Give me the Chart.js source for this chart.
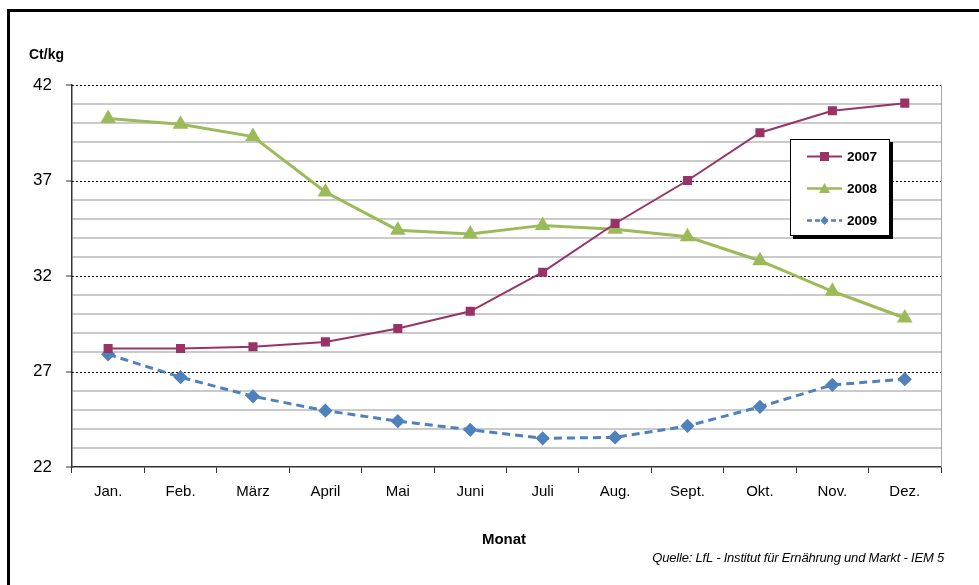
<!DOCTYPE html>
<html>
<head>
<meta charset="utf-8">
<script src="https://cdn.jsdelivr.net/npm/chart.js@4/dist/chart.umd.min.js"></script>
<style>
  html, body { margin: 0; padding: 0; background: #fff; }
  #wrap { position: relative; width: 979px; height: 585px; overflow: hidden; font-family: Arial, "Liberation Sans", sans-serif; }
  #frame { position: absolute; left: 7px; top: 9px; width: 990px; height: 600px; border-left: 3px solid #000; border-top: 3px solid #000; }
  canvas { position: absolute; left: 0; top: 0; }
  .txt { position: absolute; white-space: nowrap; color: #000; }
  #unit { left: 29px; top: 46px; font-size: 14px; font-weight: bold; }
  #xtitle { left: 0; width: 1008px; text-align: center; top: 530px; font-size: 15px; font-weight: bold; }
  #source { right: 35px; top: 550px; font-size: 13px; font-style: italic; letter-spacing: -0.2px; }
  #legend { position: absolute; left: 790px; top: 139px; width: 98px; height: 95px; background: #fff; border: 1px solid #000; box-shadow: 3px 3px 0 #000; }
  #legend .row { position: absolute; left: 16px; height: 20px; }
  #legend svg { position: absolute; left: 0; top: 0; }
  #legend span { position: absolute; left: 40px; top: 2px; font-size: 13.5px; font-weight: bold; }
</style>
</head>
<body>
<div id="wrap">
  <canvas id="myChart" width="979" height="585"></canvas>
  <div id="frame"></div>
  <div class="txt" id="unit">Ct/kg</div>
  <div class="txt" id="xtitle">Monat</div>
  <div class="txt" id="source">Quelle: LfL - Institut für Ernährung und Markt - IEM 5</div>
  <div id="legend"></div>
</div>
<script>
var months = ['Jan.', 'Feb.', 'März', 'April', 'Mai', 'Juni', 'Juli', 'Aug.', 'Sept.', 'Okt.', 'Nov.', 'Dez.'];
var years  = ['2007', '2008', '2009'];
var values_2007 = [28.2, 28.2, 28.3, 28.55, 29.25, 30.15, 32.2, 34.75, 37.0, 39.5, 40.65, 41.05];
var values_2008 = [40.25, 39.95, 39.3, 36.4, 34.4, 34.2, 34.65, 34.45, 34.05, 32.8, 31.2, 29.8];
var values_2009 = [27.9, 26.7, 25.7, 24.95, 24.4, 23.95, 23.5, 23.55, 24.15, 25.15, 26.3, 26.6];
var y_ticks = [22, 27, 32, 37, 42];

var colors = { '2007': '#993366', '2008': '#9bbb59', '2009': '#4f81bd' };

// dotted major lines + right border of the plot area
var majorLines = {
  id: 'majorLines',
  beforeDatasetsDraw: function(chart){
    var ctx = chart.ctx, area = chart.chartArea, y = chart.scales.y;
    ctx.save();
    ctx.strokeStyle = '#000';
    ctx.lineWidth = 1;
    ctx.setLineDash([2, 2]);
    y_ticks.forEach(function(v){
      if(v == y_ticks[0]) return;
      var py = Math.round(y.getPixelForValue(v)) + 0.5;
      ctx.beginPath();
      ctx.moveTo(area.left, py);
      ctx.lineTo(area.right, py);
      ctx.stroke();
    });
    ctx.setLineDash([]);
    ctx.strokeStyle = '#a6a6a6';
    ctx.beginPath();
    ctx.moveTo(area.right + 0.5, area.top);
    ctx.lineTo(area.right + 0.5, area.bottom);
    ctx.stroke();
    ctx.restore();
  }
};

function isMajor(v){
  return y_ticks.indexOf(v) >= 0;
}

var ctx = document.getElementById('myChart');
window.chart = new Chart(ctx, {
  type: 'line',
  data: {
    labels: months,
    datasets: [{
      label: '2007',
      data: values_2007,
      borderColor: colors['2007'],
      backgroundColor: colors['2007'],
      borderWidth: 2,
      pointStyle: 'rect',
      pointRadius: 5,
      tension: 0
    }, {
      label: '2008',
      data: values_2008,
      borderColor: colors['2008'],
      backgroundColor: colors['2008'],
      borderWidth: 3,
      pointStyle: 'triangle',
      pointRadius: 6,
      tension: 0
    }, {
      label: '2009',
      data: values_2009,
      borderColor: colors['2009'],
      backgroundColor: colors['2009'],
      borderWidth: 3,
      borderDash: [8, 5],
      pointStyle: 'rectRot',
      pointRadius: 5,
      tension: 0
    }]
  },
  options: {
    responsive: false,
    animation: false,
    layout: { padding: { left: 19, right: 38, top: 85, bottom: 74 } },
    plugins: {
      legend: { display: false },
      tooltip: { enabled: false }
    },
    scales: {
      x: {
        offset: true,
        grid: { offset: true, drawOnChartArea: false, tickLength: 6, tickColor: '#333', tickWidth: 1 },
        border: { color: '#333', width: 1.5 },
        ticks: { color: '#000', font: { family: 'Arial', size: 15 }, padding: 10, maxRotation: 0 }
      },
      y: {
        min: 22,
        max: 42,
        afterBuildTicks: function(axis){
          var t = [];
          for(var v = 22; v <= 42; v++) t.push({ value: v });
          axis.ticks = t;
        },
        grid: {
          color: function(c){ return isMajor(c.tick.value) ? 'rgba(0,0,0,0)' : '#cacaca'; },
          lineWidth: 2,
          tickColor: function(c){ return isMajor(c.tick.value) ? '#333' : 'rgba(0,0,0,0)'; },
          tickLength: 6,
          tickWidth: 1
        },
        border: { color: '#333', width: 1.5 },
        ticks: {
          color: '#000',
          font: { family: 'Arial', size: 17 },
          padding: 14,
          autoSkip: false,
          callback: function(v){ return isMajor(v) ? v : ''; }
        }
      }
    }
  },
  plugins: [majorLines]
});

// html legend built from the datasets
var legend = document.getElementById('legend');
chart.data.datasets.forEach(function(ds, i){
  var row = document.createElement('div');
  row.className = 'row';
  row.style.top = (7 + i * 32) + 'px';
  var c = ds.borderColor, mark = '';
  if(ds.pointStyle == 'rect') mark = '<rect x="13" y="5" width="9" height="9" fill="' + c + '"/>';
  if(ds.pointStyle == 'triangle') mark = '<polygon points="17.5,4 23,14 12,14" fill="' + c + '"/>';
  if(ds.pointStyle == 'rectRot') mark = '<polygon points="17.5,5 21.5,9.5 17.5,14 13.5,9.5" fill="' + c + '"/>';
  var dash = ds.borderDash ? ' stroke-dasharray="5,3"' : '';
  row.innerHTML = '<svg width="36" height="20"><line x1="0" y1="9.5" x2="35" y2="9.5" stroke="' + c +
    '" stroke-width="' + Math.min(ds.borderWidth, 2.5) + '"' + dash + '/>' + mark + '</svg><span>' + ds.label + '</span>';
  legend.appendChild(row);
});
</script>
</body>
</html>
